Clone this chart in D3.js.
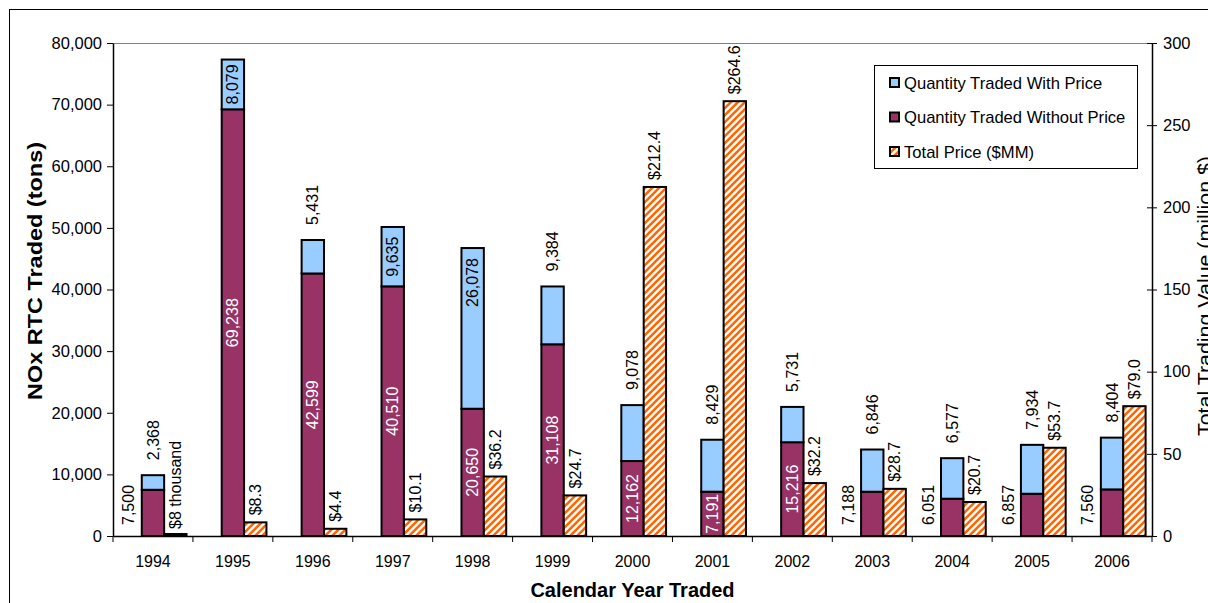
<!DOCTYPE html>
<html>
<head>
<meta charset="utf-8">
<script src="https://cdn.jsdelivr.net/npm/d3@7"></script>
<style>
  html, body { margin: 0; padding: 0; background: #fff; }
  svg { display: block; font-family: "Liberation Sans", Arial, sans-serif; }
</style>
</head>
<body>
<svg id="chart" width="1208" height="603"></svg>
<script>
// ---- data ----
const years = ["1994","1995","1996","1997","1998","1999","2000","2001","2002","2003","2004","2005","2006"];
const withoutPrice = [7500, 69238, 42599, 40510, 20650, 31108, 12162, 7191, 15216, 7188, 6051, 6857, 7560];
const withPrice = [2368, 8079, 5431, 9635, 26078, 9384, 9078, 8429, 5731, 6846, 6577, 7934, 8404];
const totalPrice = [0.008, 8.3, 4.4, 10.1, 36.2, 24.7, 212.4, 264.6, 32.2, 28.7, 20.7, 53.7, 79.0];
const leftTicks = [0, 10000, 20000, 30000, 40000, 50000, 60000, 70000, 80000];
const rightTicks = [0, 50, 100, 150, 200, 250, 300];
const legendLabels = ["Quantity Traded With Price", "Quantity Traded Without Price", "Total Price ($MM)"];
// label placement (how each label is positioned)
const withoutLabelPos = ["left","inside","inside","inside","inside","inside","inside","inside","inside","left","left","left","left"];
const withLabelPos = ["above","inside","above","inside","insideTop","above","above","above","above","above","above","above","above"];

// ---- layout ----
const svg = d3.select("#chart");
const L = 113, R = 1152, T = 43, B = 536;
const FONT = 16;
const blue = "#99CCFF", purple = "#993366", orange = "#FF6600";

const x = d3.scaleBand().domain(years).range([L, R]).paddingInner(0).paddingOuter(0);
const yL = d3.scaleLinear().domain([0, 80000]).range([B, T]);
const yR = d3.scaleLinear().domain([0, 300]).range([B, T]);
const bw = x.bandwidth();
const barW = bw * 0.28;
const stackX = d => x(d) + bw * 0.36;
const priceX = d => stackX(d) + barW;

// pattern
const defs = svg.append("defs");
const pat = defs.append("pattern").attr("id", "stripes")
  .attr("patternUnits", "userSpaceOnUse").attr("width", 7).attr("height", 7);
pat.append("rect").attr("width", 7).attr("height", 7).attr("fill", "#fff");
pat.append("path").attr("d", "M-1,8 L8,-1 M-2,2 L2,-2 M5,9 L9,5")
  .attr("stroke", orange).attr("stroke-width", 2.6);

// outer border
svg.append("rect").attr("x", 9.5).attr("y", 9.5).attr("width", 1300).attr("height", 700)
  .attr("fill", "none").attr("stroke", "#000").attr("stroke-width", 1);

// top plot border
svg.append("line").attr("x1", L).attr("x2", R).attr("y1", T + 0.5).attr("y2", T + 0.5)
  .attr("stroke", "#808080").attr("stroke-width", 1);

// ---- bars ----
const rows = years.map((yr, i) => ({yr, i, wo: withoutPrice[i], w: withPrice[i], p: totalPrice[i]}));

const g = svg.append("g");
// without price (bottom)
g.selectAll(".wo").data(rows).join("rect")
  .attr("x", d => stackX(d.yr)).attr("width", barW)
  .attr("y", d => yL(d.wo)).attr("height", d => yL(0) - yL(d.wo))
  .attr("fill", purple).attr("stroke", "#000").attr("stroke-width", 2);
// with price (top)
g.selectAll(".w").data(rows).join("rect")
  .attr("x", d => stackX(d.yr)).attr("width", barW)
  .attr("y", d => yL(d.wo + d.w)).attr("height", d => yL(d.wo) - yL(d.wo + d.w))
  .attr("fill", blue).attr("stroke", "#000").attr("stroke-width", 2);
// price
g.selectAll(".p").data(rows).join("rect")
  .attr("x", d => priceX(d.yr)).attr("width", barW)
  .attr("y", d => Math.min(yR(d.p), B - 2)).attr("height", d => Math.max(yR(0) - yR(d.p), 2))
  .attr("fill", d => d.p < 1 ? "#663300" : "url(#stripes)").attr("stroke", "#000").attr("stroke-width", 2);

// ---- axes ----
const axL = svg.append("g").attr("transform", `translate(${L},0)`)
  .call(d3.axisLeft(yL).tickValues(leftTicks).tickFormat(d3.format(",")).tickSizeInner(6).tickSizeOuter(0).tickPadding(5));
const axR = svg.append("g").attr("transform", `translate(${R},0)`)
  .call(d3.axisRight(yR).tickValues(rightTicks).tickSizeInner(5).tickSizeOuter(0).tickPadding(6));
axR.selectAll(".tick line").attr("x1", -5);
const axB = svg.append("g").attr("transform", `translate(0,${B})`)
  .call(d3.axisBottom(x).tickSize(0).tickPadding(20));
// category separator ticks
svg.append("g").selectAll("line").data(years.concat(["end"])).join("line")
  .attr("x1", (d, i) => L + i * bw).attr("x2", (d, i) => L + i * bw)
  .attr("y1", B).attr("y2", B + 6).attr("stroke", "#000").attr("stroke-width", 1);

[axL, axR, axB].forEach(a => {
  a.selectAll("text").attr("font-size", FONT).attr("fill", "#000")
    .attr("font-family", "'Liberation Sans', Arial, sans-serif");
  a.selectAll("path, line").attr("stroke", "#000");
});
axL.selectAll("text").attr("font-size", 16.5);
axR.selectAll("text").attr("font-size", 16.5);
axL.select(".domain").attr("stroke-width", 1.5);
axR.select(".domain").attr("stroke-width", 1.5);
axB.select(".domain").attr("stroke-width", 1.5);

// ---- labels ----
const fmt = d3.format(",");
const lbl = svg.append("g").attr("font-size", FONT);
function vtext(px, py, txt, anchor, color) {
  lbl.append("text").attr("transform", `translate(${px},${py}) rotate(-90)`)
    .attr("text-anchor", anchor).attr("dy", "0.35em").attr("fill", color).text(txt);
}
rows.forEach(d => {
  const cx = stackX(d.yr) + barW / 2;
  // without price
  if (withoutLabelPos[d.i] === "inside") {
    vtext(cx, (yL(0) + yL(d.wo)) / 2, fmt(d.wo), "middle", "#fff");
  } else {
    vtext(stackX(d.yr) - 13, B - 11, fmt(d.wo), "start", "#000");
  }
  // with price
  const top = yL(d.wo + d.w), mid = yL(d.wo);
  if (withLabelPos[d.i] === "above") {
    vtext(cx, top - 15, fmt(d.w), "start", "#000");
  } else if (withLabelPos[d.i] === "inside") {
    vtext(cx, (top + mid) / 2, fmt(d.w), "middle", "#000");
  } else {
    vtext(cx, top + 10, fmt(d.w), "end", "#000");
  }
  // price
  const ptxt = d.p < 1 ? "$" + Math.round(d.p * 1000) + " thousand" : "$" + d3.format(".1f")(d.p);
  vtext(priceX(d.yr) + barW / 2, yR(d.p) - 7, ptxt, "start", "#000");
});

// ---- titles ----
svg.append("text").attr("x", (L + R) / 2).attr("y", 597).attr("text-anchor", "middle")
  .attr("font-size", 20).attr("font-weight", "bold").text("Calendar Year Traded");
svg.append("text").attr("transform", `translate(42,271) rotate(-90)`).attr("text-anchor", "middle")
  .attr("font-size", 21).attr("font-weight", "bold")
  .attr("textLength", 258).attr("lengthAdjust", "spacingAndGlyphs").text("NOx RTC Traded (tons)");
svg.append("text").attr("transform", `translate(1212,296) rotate(-90)`).attr("text-anchor", "middle")
  .attr("font-size", 21)
  .attr("textLength", 280).attr("lengthAdjust", "spacingAndGlyphs").text("Total Trading Value (million $)");

// ---- legend ----
const lg = svg.append("g");
lg.append("rect").attr("x", 874.5).attr("y", 65.5).attr("width", 263).attr("height", 103)
  .attr("fill", "#fff").attr("stroke", "#000").attr("stroke-width", 1);
const legFills = [blue, purple, "url(#stripes)"];
legendLabels.forEach((t, i) => {
  const cy = 83 + i * 34.5;
  lg.append("rect").attr("x", 890).attr("y", cy - 5).attr("width", 9).attr("height", 9)
    .attr("fill", legFills[i]).attr("stroke", "#000").attr("stroke-width", 2);
  lg.append("text").attr("x", 904).attr("y", cy).attr("dy", "0.35em").attr("font-size", 16.6).text(t);
});
</script>
</body>
</html>
